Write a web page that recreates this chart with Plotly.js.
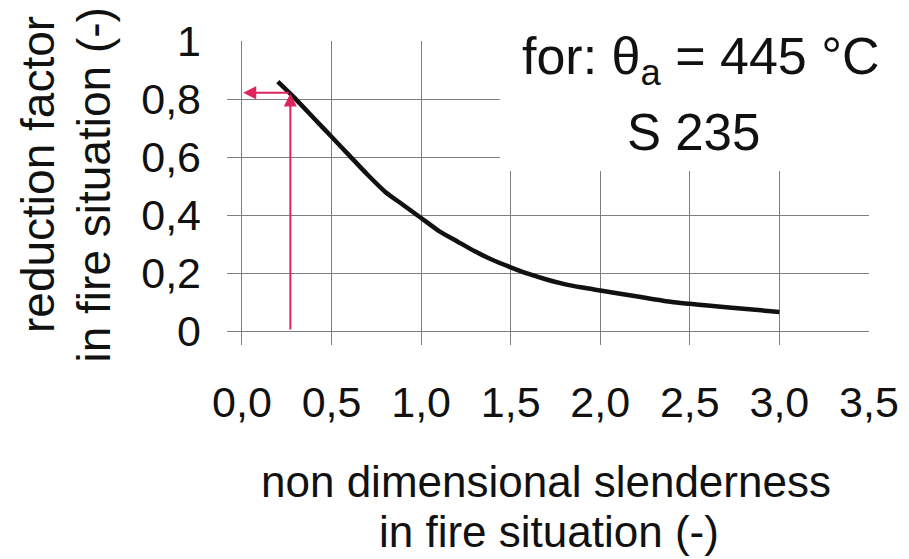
<!DOCTYPE html>
<html>
<head>
<meta charset="utf-8">
<script src="https://cdn.plot.ly/plotly-3.0.1.min.js"></script>
<style>html,body{margin:0;padding:0;background:#fff;}#chart{width:909px;height:559px;}</style>
</head>
<body>
<div id="chart"></div>
<script>
// Data
const slenderness = [0.2, 0.3, 0.4, 0.5, 0.6, 0.7, 0.8, 0.9, 1.0, 1.1, 1.2, 1.3, 1.4, 1.5, 1.6, 1.7, 1.8, 1.9, 2.0, 2.2, 2.4, 2.5, 2.6, 2.8, 3.0];
const reductionFactor = [0.86, 0.80, 0.735, 0.67, 0.605, 0.54, 0.48, 0.435, 0.39, 0.345, 0.31, 0.275, 0.245, 0.22, 0.197, 0.178, 0.162, 0.15, 0.14, 0.12, 0.10, 0.094, 0.088, 0.077, 0.066];

const xTickVals = [0, 0.5, 1.0, 1.5, 2.0, 2.5, 3.0, 3.5];
const xTickText = ["0,0", "0,5", "1,0", "1,5", "2,0", "2,5", "3,0", "3,5"];
const yTickVals = [0, 0.2, 0.4, 0.6, 0.8, 1];
const yTickText = ["0", "0,2", "0,4", "0,6", "0,8", "1"];

// Reading example (red arrows)
const readX = [0.27];
const readY = [0.822];

const FONT = "Liberation Sans, Arial, Helvetica, sans-serif";
const RED = "#e0245e";

const trace = {
  x: slenderness,
  y: reductionFactor,
  type: "scatter",
  mode: "lines",
  line: {color: "#111111", width: 4.5, shape: "spline", smoothing: 0.6},
  hoverinfo: "skip",
  showlegend: false
};

const layout = {
  width: 909,
  height: 559,
  margin: {l: 227, r: 40, t: 41, b: 214, pad: 0},
  paper_bgcolor: "#ffffff",
  plot_bgcolor: "#ffffff",
  showlegend: false,
  font: {family: FONT, color: "#111111", size: 43},
  xaxis: {
    range: [-0.0836, 3.5002],
    tickvals: xTickVals,
    ticktext: xTickText,
    showgrid: true,
    gridcolor: "#7f7f7f",
    gridwidth: 1,
    zeroline: false,
    showline: false,
    ticks: "",
    ticklabelstandoff: 28,
    tickfont: {family: FONT, size: 43, color: "#111111"},
    fixedrange: true
  },
  yaxis: {
    range: [-0.048, 1.0005],
    tickvals: yTickVals,
    ticktext: yTickText,
    showgrid: true,
    gridcolor: "#7f7f7f",
    gridwidth: 1,
    zeroline: false,
    showline: false,
    ticks: "",
    ticklabelstandoff: 25,
    tickfont: {family: FONT, size: 43, color: "#111111"},
    fixedrange: true
  },
  shapes: [
    {type: "rect", xref: "paper", yref: "paper", x0: 0.425, x1: 1.06, y0: 0.572, y1: 1.15,
     fillcolor: "#ffffff", line: {width: 0}, layer: "above"}
  ],
  annotations: [
    // red reading arrows
    {x: readX[0], y: readY[0] - 0.003, ax: readX[0], ay: 0, xref: "x", yref: "y", axref: "x", ayref: "y",
     text: "", showarrow: true, arrowhead: 2, arrowsize: 1.3, arrowwidth: 2, arrowcolor: RED, standoff: 0},
    {x: 0.007, y: readY[0], ax: readX[0], ay: readY[0], xref: "x", yref: "y", axref: "x", ayref: "y",
     text: "", showarrow: true, arrowhead: 2, arrowsize: 1.3, arrowwidth: 2, arrowcolor: RED, standoff: 0},
    // labels in the top right
    {text: "for: θ<sub>a</sub> = 445 °C", xref: "paper", yref: "paper", x: (701 - 227) / 642, y: 1.052,
     xanchor: "center", yanchor: "top", showarrow: false, font: {family: FONT, size: 52, color: "#111111"}},
    {text: "S 235", xref: "paper", yref: "paper", x: (693 - 227) / 642, y: 0.80,
     xanchor: "center", yanchor: "top", showarrow: false, font: {family: FONT, size: 51, color: "#111111"}},
    // y axis title (two lines)
    {text: "reduction factor", xref: "paper", yref: "paper", x: (38 - 227) / 642, y: (345 - 175) / 304,
     xanchor: "center", yanchor: "middle", textangle: -90, showarrow: false, font: {family: FONT, size: 46, color: "#111111"}},
    {text: "in fire situation (-)", xref: "paper", yref: "paper", x: (93 - 227) / 642, y: (345 - 185.5) / 304,
     xanchor: "center", yanchor: "middle", textangle: -90, showarrow: false, font: {family: FONT, size: 46, color: "#111111"}},
    // x axis title (two lines)
    {text: "non dimensional slenderness", xref: "paper", yref: "paper", x: (545.5 - 227) / 642, y: (345 - 481.5) / 304,
     xanchor: "center", yanchor: "middle", showarrow: false, font: {family: FONT, size: 44, color: "#111111"}},
    {text: "in fire situation (-)", xref: "paper", yref: "paper", x: (549 - 227) / 642, y: (345 - 531.5) / 304,
     xanchor: "center", yanchor: "middle", showarrow: false, font: {family: FONT, size: 44, color: "#111111"}}
  ]
};

Plotly.newPlot("chart", [trace], layout, {staticPlot: true, displayModeBar: false});
</script>
</body>
</html>
